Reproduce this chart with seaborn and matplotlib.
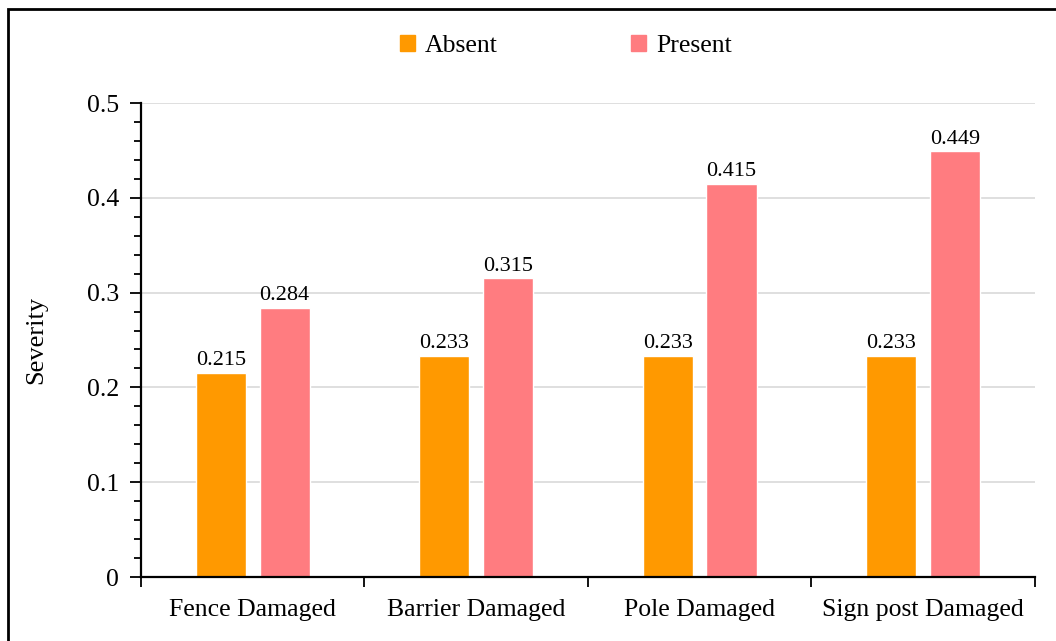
import matplotlib
matplotlib.use("Agg")
import matplotlib.pyplot as plt
import seaborn as sns
import pandas as pd
from matplotlib.patches import Rectangle

categories = ["Fence Damaged", "Barrier Damaged", "Pole Damaged", "Sign post Damaged"]
absent = [0.215, 0.233, 0.233, 0.233]
present = [0.284, 0.315, 0.415, 0.449]
series = ["Absent", "Present"]
colors = ["#FF9900", "#FF7C80"]

df = pd.DataFrame({
    "Category": categories * 2,
    "Status": ["Absent"] * len(categories) + ["Present"] * len(categories),
    "Severity": absent + present,
})

sns.set_style("white")
plt.rcParams["font.family"] = ["Liberation Serif", "DejaVu Serif"]
plt.rcParams["text.color"] = "black"
plt.rcParams["xtick.color"] = "black"
plt.rcParams["ytick.color"] = "black"
plt.rcParams["axes.labelcolor"] = "black"

fig = plt.figure(figsize=(10.56, 6.41), dpi=100)
ax = fig.add_axes([0.1335, 0.0998, 0.8465, 0.7395])

sns.barplot(data=df, x="Category", y="Severity", hue="Status", hue_order=series,
            palette=colors, width=0.57, gap=0.214, saturation=1, ax=ax, legend=False)

for cont in ax.containers:
    ax.bar_label(cont, fmt="%.3f", padding=2, fontsize=16)

ax.set_ylim(0, 0.5)
ax.set_xlim(-0.5, len(categories) - 0.5)
ax.set_yticks([0, 0.1, 0.2, 0.3, 0.4, 0.5])
ax.set_yticklabels(["0", "0.1", "0.2", "0.3", "0.4", "0.5"], fontsize=18.5)
ax.set_yticks([i * 0.02 for i in range(26)], minor=True)
ax.yaxis.grid(True, color="#D9D9D9", linewidth=1.2)
ax.set_axisbelow(True)

ax.set_xticks(range(len(categories)))
ax.set_xticklabels(categories, fontsize=18.5)
ax.set_xticks([i - 0.5 for i in range(len(categories) + 1)], minor=True)
ax.tick_params(axis="x", which="major", length=0, pad=16)
ax.tick_params(axis="x", which="minor", length=7, width=1.3, direction="out", bottom=True)
ax.tick_params(axis="y", which="major", length=8, width=1.3, direction="out", left=True, pad=8)
ax.tick_params(axis="y", which="minor", length=5, width=1.3, direction="out", left=True)

for side in ["top", "right"]:
    ax.spines[side].set_visible(False)
for side in ["left", "bottom"]:
    ax.spines[side].set_color("black")
    ax.spines[side].set_linewidth(1.6)

ax.set_xlabel("")
ax.set_ylabel("Severity", fontsize=19, labelpad=28)

handles = [Rectangle((0, 0), 1, 1, color=c) for c in colors]
fig.legend(handles, series, loc="center", bbox_to_anchor=(0.536, 0.928), ncol=2,
           frameon=False, fontsize=18.5, handlelength=0.55, handleheight=0.55,
           handletextpad=0.4, columnspacing=5.2)

fig.patches.append(Rectangle((8 / 1056, -0.1), 1.2, 1 - 9 / 641 + 0.1,
                             transform=fig.transFigure, fill=False,
                             edgecolor="black", linewidth=2))

fig.savefig("out.png", dpi=100)
